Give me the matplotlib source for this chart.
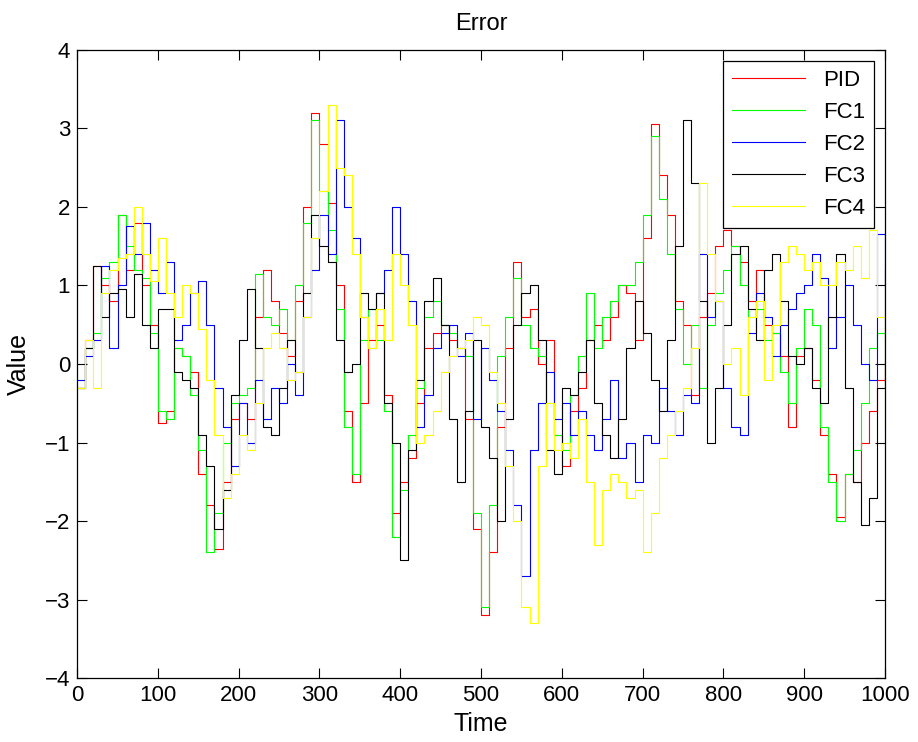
import numpy as np
import matplotlib
matplotlib.use('Agg')
import matplotlib.pyplot as plt

plt.rcParams['font.family'] = ['Liberation Sans', 'DejaVu Sans']

# sample times (every 10 steps)
time = np.arange(0, 1001, 10)

pid = [-0.3, 0.3, 1.25, 1.0, 0.8, 1.9, 1.2, 1.8, 1.0, 0.5,
       -0.75, -0.6, 0.2, 0.1, -0.1, -1.4, -1.8, -2.35, -1.5, -0.7,
       -0.5, -0.7, 0.6, 1.2, 0.8, 0.4, 0.1, 0.8, 2.0, 3.2,
       2.8, 2.05, 1.0, -0.6, -1.5, -0.5, 0.3, 0.5, -0.4, -1.9,
       -1.5, -1.2, -0.5, 0.2, 0.4, 0.5, 0.3, 0.2, -0.7, -2.1,
       -3.2, -2.4, -0.8, 0.2, 1.3, 0.6, 0.7, 0.0, 0.3, -0.9,
       -1.3, -0.6, -0.3, 0.3, 0.5, 0.3, 0.6, 1.0, 0.9, 0.3,
       1.6, 3.05, 2.4, 1.9, 0.8, 0.5, -0.4, 0.6, 0.9, 1.5,
       1.7, 1.5, 1.3, 0.8, 1.2, 0.5, 0.4, 0.1, -0.8, 0.1,
       0.2, -0.2, -0.9, -1.4, -1.95, -1.4, -1.5, -1.0, -0.6, -0.2,
       0.0]

fc1 = [-0.3, 0.2, 0.4, 1.1, 1.3, 1.9, 1.5, 1.2, 1.1, 0.4,
       -0.6, -0.7, 0.2, 0.1, -0.4, -1.1, -2.4, -1.9, -1.0, -0.5,
       -0.4, -0.3, 1.15, 0.6, 0.5, 0.7, 0.3, 1.0, 1.8, 3.1,
       2.2, 1.7, 0.7, -0.8, -1.4, 0.3, 0.7, 0.3, -0.6, -2.2,
       -1.6, -0.9, -0.3, 0.6, 0.8, 0.5, 0.4, 0.2, 0.1, -1.9,
       -3.1, -1.8, 0.1, 0.6, 1.1, 0.5, 0.2, 0.1, -0.5, -0.9,
       -1.1, -0.4, 0.1, 0.9, 0.2, 0.6, 0.8, 1.0, 1.0, 1.3,
       1.9, 2.9, 2.1, 1.4, 0.7, 0.0, 0.5, -0.3, 0.5, 0.9,
       1.2, 1.5, 1.0, 0.6, 0.7, 0.3, 0.4, -0.1, -0.5, 0.2,
       0.7, 0.5, -0.8, -1.5, -2.0, -1.4, -1.1, -0.5, 0.2, 0.4,
       0.3]

fc2 = [-0.2, 0.1, 0.3, 1.25, 0.2, 1.0, 1.75, 1.4, 1.8, 1.2,
       0.9, 1.3, 0.3, 0.5, 0.9, 1.05, 0.5, -0.3, -0.8, -1.3,
       -0.5, -1.0, -0.2, -0.7, -0.3, -0.5, 0.0, -0.4, 0.6, 1.2,
       1.9, 1.4, 3.1, 2.0, 1.6, 0.6, 0.2, 0.9, 1.2, 2.0,
       1.4, 0.8, -0.8, -0.4, 0.2, 0.4, 0.5, 0.1, 0.4, -0.7,
       0.2, -0.2, -0.6, -1.1, -1.8, -2.7, -1.1, -0.5, -0.1, -0.7,
       -0.5, -0.9, -0.6, -0.9, -1.1, -0.7, -0.2, -1.2, -1.0, -1.5,
       -0.9, -1.0, -0.3, -0.6, -0.9, -0.4, -0.5, 1.4, 0.6, 0.8,
       -0.3, -0.8, -0.9, 0.4, 0.9, 0.6, 0.1, 0.5, 0.7, 0.9,
       1.0, 1.4, 1.1, 0.2, 0.6, 1.0, 0.5, 0.0, -0.2, 1.65,
       1.0]

fc3 = [-0.3, 0.2, 1.25, 0.6, 0.9, 0.95, 0.6, 1.15, 0.5, 0.2,
       0.7, 0.7, -0.1, -0.2, -0.3, -0.9, -1.3, -2.1, -1.6, -0.4,
       0.3, 0.95, 0.2, -0.8, -0.9, -0.3, 0.3, -0.1, 0.9, 1.9,
       1.5, 1.3, 0.3, -0.1, 0.0, 0.9, 0.7, 0.9, -0.5, -1.0,
       -2.5, -1.1, -0.2, 0.8, 1.1, 0.5, -0.7, -1.5, -0.6, 0.3,
       -0.8, -1.2, -2.0, -0.7, 0.5, 0.9, 1.0, 0.3, -1.1, -1.4,
       -0.3, -0.4, -0.1, 0.3, -0.5, -0.9, -1.2, -0.7, 0.2, 0.8,
       0.4, -0.2, -0.6, 0.3, 1.5, 3.1, 2.3, 0.8, -1.0, -0.3,
       0.5, 1.4, 1.5, 0.7, 0.3, 1.2, 1.4, 0.8, 0.1, 0.0,
       0.2, -0.3, -0.5, 0.6, 1.4, -0.3, -1.5, -2.05, -1.7, -0.3,
       1.2]

fc4 = [-0.3, 0.3, -0.3, 0.9, 1.2, 1.35, 1.4, 2.0, 1.4, 1.05,
       1.6, 0.9, 0.6, 1.0, 0.9, 0.45, -0.2, -0.9, -1.7, -1.4,
       -0.9, -1.1, -0.5, 0.2, 0.4, 0.2, -0.2, -0.1, 0.6, 1.6,
       2.2, 3.3, 2.5, 2.4, 1.4, 0.6, 0.2, 0.7, 0.3, 1.4,
       1.0, 0.5, -1.0, -0.9, -0.6, -0.1, 0.1, 0.2, 0.3, 0.6,
       0.5, -0.1, -0.5, -1.3, -2.0, -3.1, -3.3, -1.3, -0.5, -1.1,
       -1.0, -1.2, -0.7, -1.5, -2.3, -1.6, -1.4, -1.5, -1.7, -1.6,
       -2.4, -1.9, -1.2, -0.9, -0.6, -0.3, 0.2, 2.3, 1.4, 0.8,
       0.0, 0.2, -0.4, 0.6, 0.8, -0.2, 0.5, 1.3, 1.5, 1.4,
       1.2, 1.3, 1.0, 1.0, 1.3, 1.2, 1.5, 1.1, 1.7, 0.6,
       -0.8]

names = ['PID', 'FC1', 'FC2', 'FC3', 'FC4']
colors = ['#ff0000', '#00ff00', '#0000ff', '#000000', '#ffff00']
series = [pid, fc1, fc2, fc3, fc4]

fig = plt.figure(figsize=(9.18, 7.42), dpi=100)
ax = fig.add_axes([0.084, 0.086, 0.880, 0.847])

for vals, name, c in zip(series, names, colors):
    ax.plot(time, vals, color=c, lw=0.8, drawstyle='steps-post', label=name)

ax.set_xlim(0, 1000)
ax.set_ylim(-4, 4)
ax.set_xticks(np.arange(0, 1001, 100))
ax.set_yticks(np.arange(-4, 5, 1))
ax.tick_params(direction='in', top=True, right=True, length=7, width=0.8,
               labelsize=16, pad=5)
for sp in ax.spines.values():
    sp.set_linewidth(0.9)

ax.set_title('Error', fontsize=17, pad=14)
ax.set_xlabel('Time', fontsize=18, labelpad=4)
ax.set_ylabel('Value', fontsize=18, labelpad=10)

leg = ax.legend(loc='upper right', fontsize=16, handlelength=3.3,
                fancybox=False, framealpha=1, edgecolor='black',
                borderaxespad=0.5, labelspacing=0.5, borderpad=0.4)
leg.get_frame().set_linewidth(0.9)

fig.savefig('out.png', dpi=100)
